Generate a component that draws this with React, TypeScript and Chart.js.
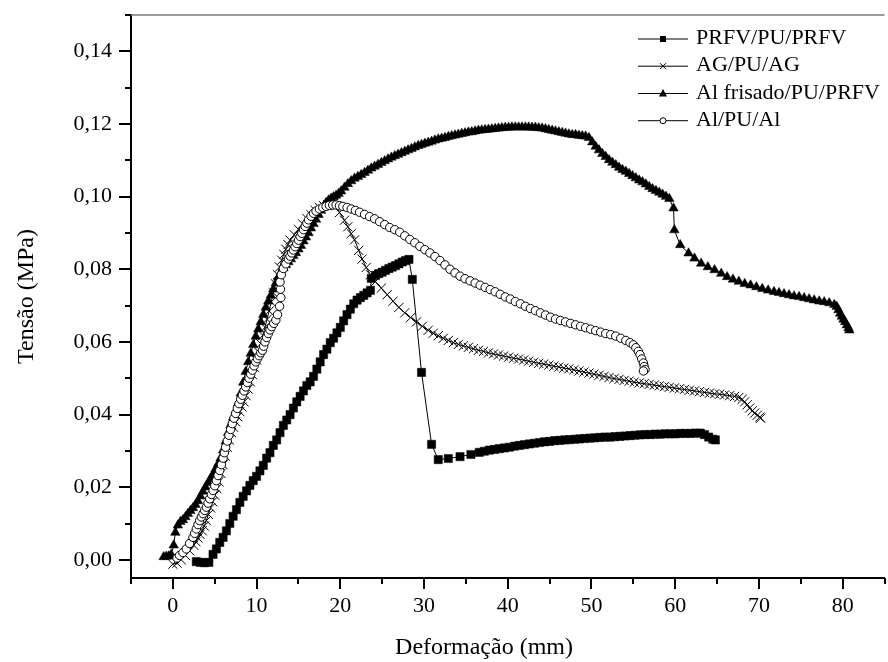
import { useEffect, useRef } from 'react';
import { Chart, registerables } from 'chart.js';

Chart.register(...registerables);

// ---------- data (Deformação mm, Tensão MPa) ----------
const prfvPoints: [number, number][] = [
  [2.8,-0.0005],[3.3,-0.0007],[3.8,-0.0008],[4.3,-0.0007],[4.8,0.0015],[5.2,0.003],[5.6,0.0048],[6.0,0.0062],[6.4,0.008],[6.8,0.010],
  [7.2,0.012],[7.6,0.0138],[8.0,0.0158],[8.4,0.0175],[8.8,0.019],[9.2,0.0205],[9.6,0.0218],[10.0,0.023],[10.4,0.0245],[10.8,0.026],
  [11.2,0.028],[11.6,0.0295],[12.0,0.0315],[12.4,0.033],[12.8,0.035],[13.2,0.037],[13.6,0.0385],[14.0,0.040],[14.4,0.0418],[14.8,0.0435],
  [15.2,0.045],[15.6,0.0465],[16.0,0.048],[16.4,0.049],[16.8,0.0505],[17.2,0.0525],[17.6,0.0545],[18.0,0.0565],[18.4,0.058],[18.8,0.0598],
  [19.2,0.061],[19.6,0.0625],[20.0,0.064],[20.4,0.0658],[20.8,0.0675],[21.2,0.069],[21.6,0.0705],[22.0,0.0715],[22.4,0.0722],[22.8,0.0728],
  [23.2,0.0735],[23.6,0.0742],[23.7,0.0775],[24.2,0.0783],[24.6,0.0788],[25.0,0.0792],[25.4,0.0797],[25.8,0.0802],[26.2,0.0806],[26.6,0.081],
  [27.0,0.0815],[27.4,0.082],[27.8,0.0824],[28.2,0.0827],[28.6,0.0772],[29.7,0.0516],[30.9,0.0318],[31.7,0.0276],[32.9,0.0279],[34.3,0.0284],
  [35.6,0.029],[36.6,0.0296],[37.2,0.0299],[37.8,0.0302],[38.4,0.0304],[39.0,0.0306],[39.6,0.0308],[40.2,0.031],[40.8,0.0313],[41.4,0.0315],
  [42.0,0.0317],[42.6,0.0319],[43.2,0.0321],[43.8,0.0323],[44.4,0.0325],[45.0,0.0326],[45.6,0.0328],[46.2,0.0329],[46.8,0.033],[47.4,0.0331],
  [48.0,0.0332],[48.6,0.0333],[49.2,0.0334],[49.8,0.0335],[50.4,0.0336],[51.0,0.0337],[51.6,0.0338],[52.2,0.0338],[52.8,0.0339],[53.4,0.034],
  [54.0,0.0341],[54.6,0.0342],[55.2,0.0343],[55.8,0.0344],[56.4,0.0345],[57.0,0.0345],[57.6,0.0346],[58.2,0.0346],[58.8,0.0347],[59.4,0.0347],
  [60.0,0.0347],[60.6,0.0348],[61.2,0.0348],[61.8,0.0348],[62.4,0.0349],[63.0,0.0349],[63.5,0.0345],[64.0,0.0338],[64.5,0.0332],[64.8,0.033]
];

const agPoints: [number, number][] = [
  [0.0,-0.0012],[0.5,-0.0009],[1.0,0.0],[1.5,0.0012],[2.0,0.0025],[2.5,0.004],[2.75,0.005],[3.0,0.006],[3.25,0.007],[3.5,0.008],
  [3.75,0.0093],[4.0,0.0108],[4.25,0.0125],[4.5,0.0143],[4.75,0.016],[5.0,0.0178],[5.25,0.0196],[5.5,0.0215],[5.75,0.0238],[6.0,0.0262],
  [6.25,0.0286],[6.5,0.031],[6.75,0.033],[7.0,0.035],[7.25,0.0365],[7.5,0.038],[7.75,0.0394],[8.0,0.0408],[8.25,0.0421],[8.5,0.0435],
  [8.75,0.0452],[9.0,0.047],[9.25,0.049],[9.5,0.051],[9.75,0.053],[10.0,0.055],[10.25,0.0572],[10.5,0.0595],[10.75,0.0618],[11.0,0.064],
  [11.25,0.0662],[11.5,0.0685],[11.75,0.071],[12.0,0.0735],[12.25,0.076],[12.5,0.0785],[12.75,0.0806],[13.0,0.0825],[13.25,0.0841],[13.5,0.0855],
  [13.75,0.0868],[14.0,0.088],[14.5,0.0895],[15.0,0.091],[15.5,0.0925],[16.0,0.094],[16.5,0.095],[17.0,0.0962],[17.5,0.097],[18.0,0.0975],
  [18.5,0.0978],[19.0,0.0978],[19.5,0.0975],[19.9,0.0956],[20.5,0.0935],[20.9,0.0917],[21.3,0.0898],[21.7,0.0881],[22.2,0.0852],[22.6,0.0828],
  [23.1,0.0805],[23.6,0.0785],[24.2,0.0766],[24.9,0.0748],[25.6,0.073],[26.3,0.0712],[27.0,0.0695],[27.7,0.068],[28.4,0.0667],[29.1,0.0655],
  [29.8,0.0643],[30.5,0.0632],[31.1,0.0624],[31.7,0.0617],[32.3,0.061],[32.9,0.0604],[33.5,0.0598],[34.1,0.0593],[34.7,0.0589],[35.3,0.0585],
  [35.9,0.0581],[36.5,0.0577],[37.1,0.0574],[37.7,0.057],[38.3,0.0567],[38.9,0.0564],[39.5,0.0561],[40.1,0.0558],[40.7,0.0555],[41.3,0.0553],
  [41.9,0.055],[42.5,0.0547],[43.1,0.0544],[43.7,0.0541],[44.3,0.0539],[44.9,0.0536],[45.5,0.0533],[46.1,0.0531],[46.7,0.0528],[47.3,0.0526],
  [47.9,0.0523],[48.5,0.052],[49.1,0.0517],[49.7,0.0514],[50.3,0.0511],[50.9,0.0508],[51.5,0.0505],[52.1,0.0502],[52.7,0.0499],[53.3,0.0497],
  [53.9,0.0494],[54.5,0.0492],[55.1,0.0489],[55.7,0.0487],[56.3,0.0485],[56.9,0.0483],[57.5,0.0481],[58.1,0.0479],[58.7,0.0477],[59.3,0.0475],
  [59.9,0.0473],[60.5,0.0471],[61.1,0.0469],[61.7,0.0467],[62.3,0.0465],[62.9,0.0463],[63.5,0.0461],[64.1,0.0459],[64.7,0.0457],[65.3,0.0456],
  [65.9,0.0454],[66.5,0.0452],[67.1,0.045],[67.6,0.0447],[68.0,0.0442],[68.3,0.0435],[68.6,0.0427],[68.9,0.0418],[69.2,0.041],[69.5,0.0404],
  [69.8,0.0398],[70.1,0.0393],[70.2,0.039]
];

const alFrisadoPoints: [number, number][] = [
  [-1.1,0.0008],[-0.8,0.0009],[-0.5,0.001],[-0.2,0.0015],[0.1,0.004],[0.3,0.0075],[0.6,0.0095],[0.9,0.0105],[1.2,0.011],[1.5,0.0118],
  [1.8,0.0127],[2.1,0.0135],[2.4,0.0143],[2.7,0.0152],[3.0,0.0162],[3.3,0.0175],[3.6,0.0188],[3.9,0.02],[4.2,0.0212],[4.5,0.0223],
  [4.8,0.0236],[5.1,0.025],[5.4,0.0264],[5.7,0.028],[6.0,0.0302],[6.3,0.0326],[6.6,0.035],[6.9,0.0372],[7.2,0.0392],[7.5,0.041],
  [7.8,0.0432],[8.1,0.0458],[8.4,0.0488],[8.7,0.0518],[9.0,0.0545],[9.3,0.0568],[9.6,0.0592],[9.9,0.0615],[10.2,0.0635],[10.5,0.0655],
  [10.8,0.0675],[11.1,0.0695],[11.4,0.0712],[11.7,0.0728],[12.0,0.0745],[12.3,0.0762],[12.6,0.0778],[12.9,0.0792],[13.2,0.0803],[13.5,0.0812],
  [13.8,0.082],[14.1,0.0828],[14.4,0.0837],[14.7,0.0845],[15.0,0.0855],[15.3,0.0865],[15.6,0.0877],[15.9,0.0888],[16.2,0.09],[16.5,0.0913],
  [16.8,0.0925],[17.1,0.0937],[17.4,0.095],[17.7,0.0962],[18.0,0.0973],[18.3,0.0983],[18.6,0.099],[18.9,0.0995],[19.2,0.0999],[19.5,0.1003],
  [19.8,0.1008],[20.1,0.1015],[20.5,0.1025],[20.9,0.1035],[21.3,0.1043],[21.7,0.105],[22.1,0.1055],[22.5,0.106],[22.9,0.1066],[23.3,0.1072],
  [23.7,0.1078],[24.1,0.1083],[24.5,0.1088],[24.9,0.1093],[25.3,0.1098],[25.7,0.1103],[26.1,0.1108],[26.5,0.1112],[26.9,0.1116],[27.3,0.112],
  [27.7,0.1124],[28.1,0.1128],[28.5,0.1132],[28.9,0.1136],[29.3,0.114],[29.7,0.1143],[30.1,0.1146],[30.5,0.1149],[30.9,0.1152],[31.3,0.1155],
  [31.7,0.1158],[32.1,0.116],[32.5,0.1162],[32.9,0.1165],[33.3,0.1167],[33.7,0.1169],[34.1,0.1171],[34.5,0.1173],[34.9,0.1175],[35.3,0.1177],
  [35.7,0.1178],[36.1,0.118],[36.5,0.1182],[36.9,0.1183],[37.3,0.1184],[37.7,0.1185],[38.1,0.1186],[38.5,0.1187],[38.9,0.1188],[39.3,0.1189],
  [39.7,0.119],[40.1,0.119],[40.5,0.1191],[40.9,0.1191],[41.3,0.1191],[41.7,0.1191],[42.1,0.1191],[42.5,0.1191],[42.9,0.119],[43.3,0.119],
  [43.7,0.1189],[44.1,0.1188],[44.5,0.1186],[44.9,0.1184],[45.3,0.1182],[45.7,0.118],[46.1,0.1178],[46.5,0.1176],[46.9,0.1174],[47.3,0.1172],
  [47.7,0.117],[48.1,0.117],[48.5,0.1168],[48.9,0.1167],[49.3,0.1166],[49.7,0.1162],[50.1,0.115],[50.5,0.1138],[50.9,0.1128],[51.3,0.1118],
  [51.7,0.111],[52.1,0.1101],[52.5,0.1094],[52.9,0.1087],[53.3,0.108],[53.7,0.1074],[54.1,0.1069],[54.5,0.1063],[54.9,0.1057],[55.3,0.1051],
  [55.7,0.1045],[56.1,0.104],[56.5,0.1034],[56.9,0.1027],[57.3,0.1021],[57.7,0.1016],[58.1,0.1011],[58.5,0.1006],[58.9,0.1],[59.3,0.0994],
  [59.8,0.0968],[59.9,0.0908],[60.6,0.0867],[61.6,0.0844],[62.3,0.083],[63.1,0.0816],[63.9,0.0806],[64.7,0.0798],[65.5,0.0788],[66.2,0.0779],
  [66.9,0.0772],[67.6,0.0766],[68.3,0.076],[69.0,0.0756],[69.7,0.0751],[70.4,0.0746],[71.1,0.0742],[71.8,0.0738],[72.4,0.0735],[73.0,0.0732],
  [73.6,0.0729],[74.2,0.0726],[74.8,0.0724],[75.4,0.0721],[76.0,0.0718],[76.6,0.0715],[77.2,0.0712],[77.8,0.071],[78.4,0.0707],[79.0,0.0702],
  [79.3,0.0697],[79.5,0.0688],[79.7,0.0678],[79.9,0.067],[80.1,0.0662],[80.3,0.0655],[80.5,0.0646],[80.7,0.0638],[80.8,0.0632]
];

const alPoints: [number, number][] = [
  [0.5,0.0005],[0.8,0.0012],[1.2,0.002],[1.6,0.003],[2.0,0.0045],[2.4,0.0062],[2.6,0.0073],[2.8,0.0085],[3.0,0.0097],[3.2,0.0108],
  [3.4,0.0118],[3.6,0.0127],[3.8,0.0136],[4.0,0.0145],[4.2,0.0156],[4.4,0.0168],[4.6,0.018],[4.8,0.0191],[5.0,0.0204],[5.2,0.0218],
  [5.4,0.0232],[5.6,0.0246],[5.8,0.0262],[6.0,0.028],[6.15,0.0295],[6.3,0.031],[6.5,0.0327],[6.7,0.0343],[6.9,0.0359],[7.1,0.0375],
  [7.3,0.039],[7.5,0.0403],[7.7,0.0417],[7.9,0.043],[8.1,0.0442],[8.3,0.0453],[8.5,0.0465],[8.7,0.0476],[8.9,0.0488],[9.1,0.05],
  [9.3,0.0511],[9.5,0.0522],[9.7,0.0534],[9.9,0.0545],[10.1,0.0554],[10.3,0.0562],[10.5,0.057],[10.7,0.0577],[10.85,0.0588],[11.0,0.06],
  [11.2,0.0612],[11.4,0.0623],[11.6,0.0633],[11.8,0.0642],[12.05,0.0651],[12.3,0.066],[12.5,0.0675],[12.75,0.0698],[12.9,0.0722],[12.85,0.0745],
  [12.8,0.0765],[12.95,0.0785],[13.2,0.0802],[13.5,0.0815],[13.8,0.0828],[14.0,0.0836],[14.2,0.0845],[14.4,0.0853],[14.6,0.0862],[14.8,0.0871],
  [15.0,0.088],[15.2,0.089],[15.4,0.0899],[15.6,0.0909],[15.8,0.0918],[16.0,0.0927],[16.2,0.0936],[16.5,0.0946],[16.8,0.0954],[17.1,0.096],
  [17.5,0.0966],[17.9,0.097],[18.3,0.0973],[18.7,0.0976],[19.1,0.0977],[19.5,0.0977],[19.9,0.0975],[20.3,0.0973],[20.8,0.097],[21.3,0.0966],
  [21.8,0.0962],[22.3,0.0957],[22.9,0.0951],[23.5,0.0945],[24.1,0.0939],[24.7,0.0931],[25.3,0.0923],[25.9,0.0915],[26.5,0.0909],[27.1,0.0902],
  [27.7,0.0892],[28.3,0.0882],[28.9,0.0873],[29.5,0.0863],[30.1,0.0854],[30.7,0.0845],[31.3,0.0835],[31.9,0.0824],[32.5,0.0812],[33.1,0.08],
  [33.7,0.079],[34.3,0.0781],[34.9,0.0774],[35.5,0.0768],[36.1,0.0762],[36.7,0.0756],[37.3,0.075],[37.9,0.0744],[38.5,0.0738],[39.1,0.0731],
  [39.7,0.0724],[40.3,0.0718],[40.9,0.0711],[41.5,0.0705],[42.1,0.0698],[42.7,0.0692],[43.3,0.0686],[43.9,0.068],[44.5,0.0674],[45.1,0.0668],
  [45.7,0.0663],[46.3,0.0659],[46.9,0.0655],[47.5,0.0651],[48.1,0.0647],[48.7,0.0643],[49.3,0.0639],[49.9,0.0635],[50.5,0.0631],[51.1,0.0627],
  [51.7,0.0623],[52.3,0.062],[52.9,0.0616],[53.5,0.061],[54.1,0.0604],[54.6,0.0598],[55.0,0.0592],[55.3,0.0584],[55.6,0.0574],[55.8,0.0565],
  [56.0,0.0553],[56.2,0.0542],[56.3,0.0532],[56.4,0.0524],[56.2,0.052]
];

const seriesLabels = ['PRFV/PU/PRFV', 'AG/PU/AG', 'Al frisado/PU/PRFV', 'Al/PU/Al'];
const xTicks = [0, 10, 20, 30, 40, 50, 60, 70, 80];
const xMinorTicks = [-5, 5, 15, 25, 35, 45, 55, 65, 75, 85];
const yTicks = [0, 0.02, 0.04, 0.06, 0.08, 0.1, 0.12, 0.14];
const yMinorTicks = [0.01, 0.03, 0.05, 0.07, 0.09, 0.11, 0.13, 0.15];
const xTitle = 'Deformação (mm)';
const yTitle = 'Tensão (MPa)';

const FONT = "'Liberation Serif', 'Times New Roman', serif";

function drawMarker(ctx: CanvasRenderingContext2D, kind: number, x: number, y: number, s: number) {
  ctx.save();
  ctx.lineWidth = 1;
  ctx.strokeStyle = '#000';
  ctx.fillStyle = '#000';
  if (kind === 0) {
    ctx.fillRect(x - s / 2, y - s / 2, s, s);
  } else if (kind === 1) {
    const h = s / 2;
    ctx.beginPath();
    ctx.moveTo(x - h, y - h); ctx.lineTo(x + h, y + h);
    ctx.moveTo(x + h, y - h); ctx.lineTo(x - h, y + h);
    ctx.stroke();
  } else if (kind === 2) {
    const h = s / 2;
    ctx.beginPath();
    ctx.moveTo(x, y - h - 1);
    ctx.lineTo(x + h + 0.5, y + h - 0.5);
    ctx.lineTo(x - h - 0.5, y + h - 0.5);
    ctx.closePath();
    ctx.fill();
  } else {
    ctx.beginPath();
    ctx.arc(x, y, s / 2, 0, Math.PI * 2);
    ctx.fillStyle = '#fff';
    ctx.fill();
    ctx.stroke();
  }
  ctx.restore();
}

const decorPlugin = {
  id: 'decor',
  afterDraw(chart: any) {
    const { ctx, chartArea: a, scales } = chart;
    const xs = scales.x;
    const ys = scales.y;
    ctx.save();
    ctx.strokeStyle = '#000';
    ctx.lineWidth = 2;
    const seg = (x1: number, y1: number, x2: number, y2: number) => {
      ctx.beginPath(); ctx.moveTo(x1, y1); ctx.lineTo(x2, y2); ctx.stroke();
    };
    for (const v of yTicks) { const p = Math.round(ys.getPixelForValue(v)); seg(a.left - 12, p, a.left, p); }
    for (const v of yMinorTicks) { const p = Math.round(ys.getPixelForValue(v)); seg(a.left - 6, p, a.left, p); }
    for (const v of xTicks) { const p = Math.round(xs.getPixelForValue(v)); seg(p, a.bottom, p, a.bottom + 11); }
    for (const v of xMinorTicks) { const p = Math.round(xs.getPixelForValue(v)); seg(p, a.bottom, p, a.bottom + 6); }

    // top frame line
    ctx.strokeStyle = '#7a7a7a';
    ctx.lineWidth = 1.5;
    seg(a.left, a.top, a.right, a.top);

    // axis titles
    ctx.fillStyle = '#000';
    ctx.font = `24px ${FONT}`;
    ctx.textAlign = 'center';
    ctx.textBaseline = 'middle';
    ctx.fillText(xTitle, 484, 648);
    ctx.save();
    ctx.translate(27, (a.top + a.bottom) / 2);
    ctx.rotate(-Math.PI / 2);
    ctx.fillText(yTitle, 0, 0);
    ctx.restore();

    // legend
    ctx.font = `22px ${FONT}`;
    ctx.textAlign = 'left';
    const rows = [38.5, 65.7, 93, 120.2];
    const markSize = [6, 6, 7, 6];
    seriesLabels.forEach((lab, i) => {
      const yy = rows[i];
      ctx.strokeStyle = '#000';
      ctx.lineWidth = 1;
      seg(638, yy + 0.5, 688, yy + 0.5);
      drawMarker(ctx, i, 663, yy + 0.5, markSize[i]);
      ctx.fillStyle = '#000';
      ctx.fillText(lab, 696, yy);
    });
    ctx.restore();
  },
};

const toXY = (pts: [number, number][]) => pts.map(([x, y]) => ({ x, y }));

export default function App() {
  const ref = useRef<HTMLCanvasElement | null>(null);
  useEffect(() => {
    if (!ref.current) return;
    const common = {
      showLine: true,
      borderColor: '#000',
      borderWidth: 1,
      tension: 0,
      pointBorderColor: '#000',
      pointBorderWidth: 1,
    };
    const chart = new Chart(ref.current, {
      type: 'scatter',
      data: {
        datasets: [
          { ...common, label: seriesLabels[0], data: toXY(prfvPoints), pointStyle: 'rect', pointRadius: 5.8, pointBackgroundColor: '#000', pointBorderWidth: 0.5, order: 3 },
          { ...common, label: seriesLabels[1], data: toXY(agPoints), pointStyle: 'crossRot', pointRadius: 6.5, pointBackgroundColor: '#000', order: 2 },
          { ...common, label: seriesLabels[2], data: toXY(alFrisadoPoints), pointStyle: 'triangle', pointRadius: 5.5, pointBackgroundColor: '#000', pointBorderWidth: 0.5, order: 1 },
          { ...common, label: seriesLabels[3], data: toXY(alPoints), pointStyle: 'circle', pointRadius: 4.2, pointBackgroundColor: '#fff', order: 0 },
        ] as any,
      },
      options: {
        animation: false,
        responsive: false,
        devicePixelRatio: 1,
        layout: { padding: { top: 15, left: 0, right: 0, bottom: 0 } },
        plugins: { legend: { display: false }, tooltip: { enabled: false } },
        scales: {
          x: {
            type: 'linear',
            min: -5,
            max: 85,
            grid: { display: false, drawTicks: false },
            border: { display: true, color: '#000', width: 2 },
            afterBuildTicks: (s: any) => { s.ticks = xTicks.map((v) => ({ value: v })); },
            afterFit: (s: any) => { s.height = 84; s.paddingLeft = 0; s.paddingRight = 0; },
            ticks: {
              autoSkip: false,
              maxRotation: 0,
              padding: 15,
              color: '#000',
              font: { family: FONT, size: 22 },
              callback: (v: any) => String(v),
            },
          },
          y: {
            type: 'linear',
            min: -0.005,
            max: 0.15,
            grid: { display: false, drawTicks: false },
            border: { display: true, color: '#000', width: 2 },
            afterBuildTicks: (s: any) => { s.ticks = yTicks.map((v) => ({ value: v })); },
            afterFit: (s: any) => { s.width = 131; s.paddingTop = 0; s.paddingBottom = 0; },
            ticks: {
              autoSkip: false,
              padding: 19,
              color: '#000',
              font: { family: FONT, size: 22 },
              callback: (v: any) => Number(v).toFixed(2).replace('.', ','),
            },
          },
        },
      } as any,
      plugins: [decorPlugin],
    });
    return () => chart.destroy();
  }, []);

  return (
    <div style={{ position: 'fixed', left: 0, top: 0, width: 888, height: 662, overflow: 'hidden', background: '#fff' }}>
      <canvas ref={ref} width={892} height={662} style={{ display: 'block' }} />
    </div>
  );
}
